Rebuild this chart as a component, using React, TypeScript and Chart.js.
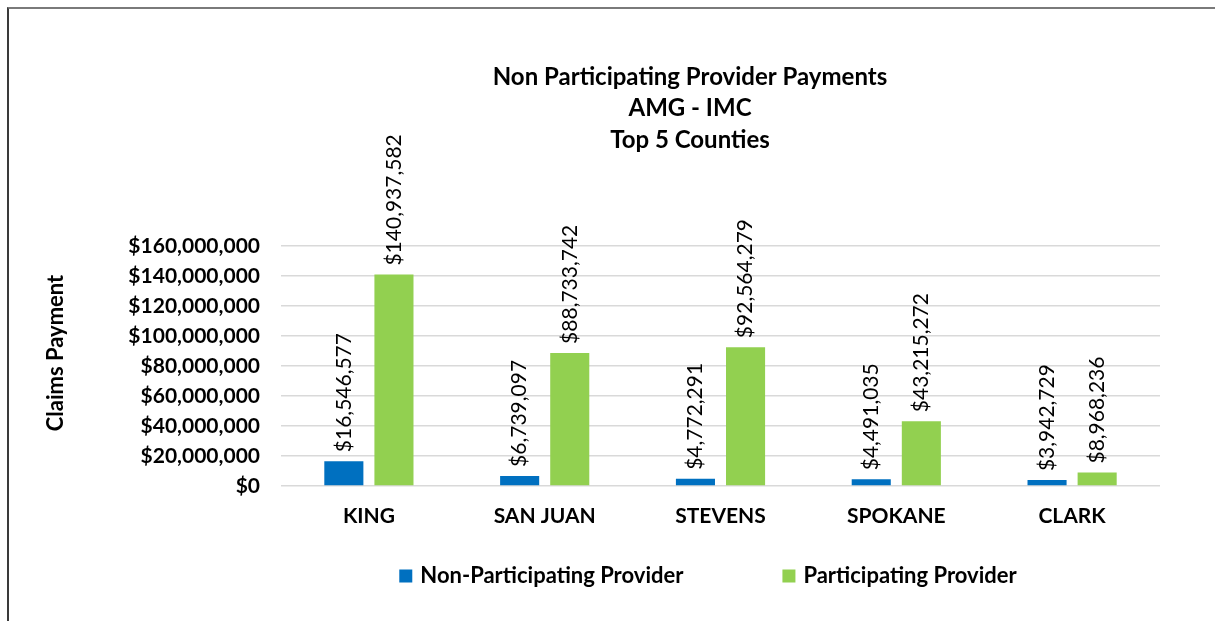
import React, { useEffect, useRef } from "react";
import { Chart, registerables } from "chart.js";

Chart.register(...registerables);

const titleLines = ["Non Participating Provider Payments", "AMG - IMC", "Top 5 Counties"];
const counties = ["KING", "SAN JUAN", "STEVENS", "SPOKANE", "CLARK"];
const nonParticipating = [16546577, 6739097, 4772291, 4491035, 3942729];
const participating = [140937582, 88733742, 92564279, 43215272, 8968236];
const seriesNames = ["Non-Participating Provider", "Participating Provider"];
const seriesColors = ["#0070C0", "#92D050"];
const yAxisTitle = "Claims Payment";
const yMax = 160000000;
const yStep = 20000000;

const FONT = "Lato, 'Open Sans', sans-serif";

const money = (v: number) => "$" + Math.round(v).toLocaleString("en-US");

const dataLabelPlugin = {
  id: "dataLabels",
  afterDatasetsDraw(chart: any) {
    const ctx = chart.ctx;
    ctx.save();
    ctx.font = `normal 21px ${FONT}`;
    ctx.fillStyle = "#000";
    chart.data.datasets.forEach((ds: any, di: number) => {
      const meta = chart.getDatasetMeta(di);
      meta.data.forEach((bar: any, i: number) => {
        ctx.save();
        ctx.translate(bar.x, bar.y - 9);
        ctx.rotate(-Math.PI / 2);
        ctx.textAlign = "left";
        ctx.textBaseline = "middle";
        ctx.fillText(money(ds.data[i]), 0, 0);
        ctx.restore();
      });
    });
    ctx.restore();
  },
};

const titlePlugin = {
  id: "customTitle",
  afterDraw(chart: any) {
    const ctx = chart.ctx;
    ctx.save();
    ctx.font = `bold 24px ${FONT}`;
    ctx.fillStyle = "#000";
    ctx.textAlign = "center";
    ctx.textBaseline = "middle";
    titleLines.forEach((line, i) => {
      ctx.fillText(line, 690, 77 + i * 31.5);
    });
    ctx.restore();
  },
};

const yTitlePlugin = {
  id: "yTitle",
  afterDraw(chart: any) {
    const ctx = chart.ctx;
    ctx.save();
    ctx.font = `bold 22px ${FONT}`;
    ctx.fillStyle = "#000";
    ctx.translate(56, 353);
    ctx.rotate(-Math.PI / 2);
    ctx.textAlign = "center";
    ctx.textBaseline = "middle";
    ctx.fillText(yAxisTitle, 0, 0);
    ctx.restore();
  },
};

const legendPlugin = {
  id: "customLegend",
  afterDraw(chart: any) {
    const ctx = chart.ctx;
    ctx.save();
    ctx.font = `bold 22px ${FONT}`;
    const box = 13;
    const textGap = 8;
    const itemGap = 99;
    const items = chart.data.datasets.map((d: any) => ({
      label: d.label,
      color: d.backgroundColor,
      w: box + textGap + ctx.measureText(d.label).width,
    }));
    const total = items.reduce((s: number, it: any) => s + it.w, 0) + itemGap * (items.length - 1);
    let x = 708 - total / 2;
    const cy = 576;
    items.forEach((it: any) => {
      ctx.fillStyle = it.color;
      ctx.fillRect(x, cy - box / 2, box, box);
      ctx.fillStyle = "#000";
      ctx.textAlign = "left";
      ctx.textBaseline = "middle";
      ctx.fillText(it.label, x + box + textGap, cy);
      x += it.w + itemGap;
    });
    ctx.restore();
  },
};

export default function App() {
  const ref = useRef<HTMLCanvasElement>(null);

  useEffect(() => {
    if (!ref.current) return;
    Chart.defaults.font.family = FONT;
    const chart = new Chart(ref.current, {
      type: "bar",
      data: {
        labels: counties,
        datasets: [
          {
            label: seriesNames[0],
            data: nonParticipating,
            backgroundColor: seriesColors[0],
            categoryPercentage: 0.57,
            barPercentage: 0.78,
          },
          {
            label: seriesNames[1],
            data: participating,
            backgroundColor: seriesColors[1],
            categoryPercentage: 0.57,
            barPercentage: 0.78,
          },
        ],
      },
      options: {
        responsive: false,
        animation: false,
        devicePixelRatio: 1,
        layout: { padding: { left: 30, right: 55, top: 246, bottom: 85 } },
        plugins: {
          legend: { display: false },
          tooltip: { enabled: false },
          title: { display: false },
        },
        scales: {
          x: {
            grid: { display: false, drawTicks: false },
            border: { display: false },
            ticks: { color: "#000", font: { family: FONT, size: 21, weight: "bold" }, padding: 18 },
            afterFit: (axis: any) => {
              axis.height = 50;
            },
          },
          y: {
            min: 0,
            max: yMax,
            grid: { color: "#d9d9d9", lineWidth: 1.5, drawTicks: false },
            border: { display: false },
            ticks: {
              stepSize: yStep,
              color: "#000",
              font: { family: FONT, size: 21, weight: "bold" },
              padding: 21,
              callback: (v: any) => money(Number(v)),
            },
            afterFit: (axis: any) => {
              axis.width = 251;
            },
          },
        },
      },
      plugins: [dataLabelPlugin, titlePlugin, yTitlePlugin, legendPlugin],
    });
    return () => chart.destroy();
  }, []);

  return (
    <div style={{ position: "fixed", left: 0, top: 0, width: 1215, height: 621, background: "#fff" }}>
      <canvas ref={ref} width={1215} height={621} style={{ position: "absolute", left: 0, top: 0, width: 1215, height: 621 }} />
      <div
        style={{
          position: "absolute",
          left: 7,
          top: 7,
          right: 0,
          bottom: 0,
          borderTop: "2px solid #7a7a7a",
          borderLeft: "2px solid #3a3a3a",
          pointerEvents: "none",
        }}
      />
    </div>
  );
}
